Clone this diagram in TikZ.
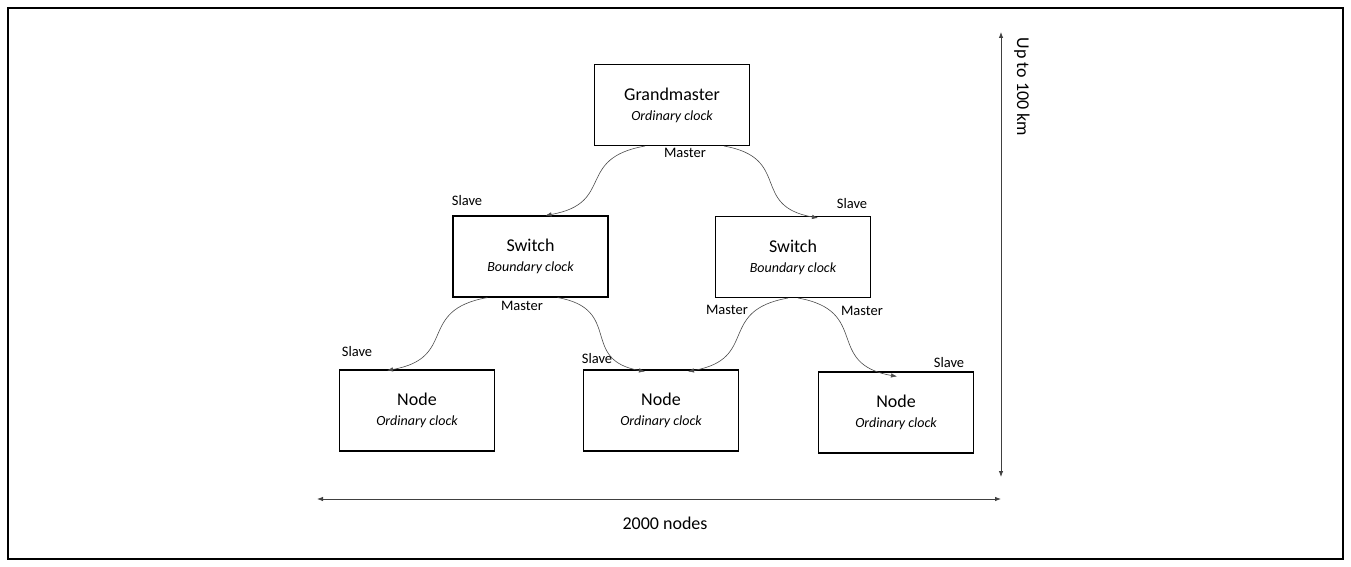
\documentclass[tikz,border=0pt]{standalone}
\usepackage{fontspec}
\setmainfont{Carlito}
\usetikzlibrary{arrows.meta}
\usetikzlibrary{positioning}

\begin{document}
\begin{tikzpicture}[
    x=1pt, y=-1pt,
    clock/.style={rectangle, draw=black, line width=1.1pt, minimum width=155, minimum height=81, align=center, inner sep=0, font=\fontsize{18}{20}\selectfont},
    link/.style={draw=black!70, line width=0.6pt, -{Latex[length=6pt,width=4.5pt]}, looseness=1.5},
    span/.style={draw=black!75, line width=0.8pt, {Latex[length=6pt,width=4.5pt]}-{Latex[length=6pt,width=4.5pt]}},
    port/.style={font=\fontsize{14.5}{16}\selectfont, inner sep=1pt},
    ]
    \newcommand{\clocktext}[2]{#1\\{\fontsize{14}{20}\selectfont\itshape #2}}

    \useasboundingbox [fill=white] (0,0) rectangle (1351,567);
    \draw [line width=1.2pt] (8,8) rectangle (1343,559);

    % clocks
    \node (gm) [clock] at (672,105) {\clocktext{Grandmaster}{Ordinary clock}};
    \node (sw1) [clock] at (530.5,256.5) {\clocktext{Switch}{Boundary clock}};
    \node (sw2) [clock] at (793,257) {\clocktext{Switch}{Boundary clock}};
    \node (nd1) [clock] at (417,410.5) {\clocktext{Node}{Ordinary clock}};
    \node (nd2) [clock] at (661,410.5) {\clocktext{Node}{Ordinary clock}};
    \node (nd3) [clock] at (896,412.5) {\clocktext{Node}{Ordinary clock}};

    % sync links
    \draw [link] ([xshift=-27]gm.south) to [out=190, in=10] ([xshift=15]sw1.north);
    \draw [link] ([xshift=52]gm.south) to [out=-10, in=170] ([xshift=25,yshift=-2]sw2.north);
    \draw [link] ([xshift=-43]sw1.south) to [out=190, in=10] ([xshift=-30,yshift=-1]nd1.north);
    \draw [link] ([xshift=27]sw1.south) to [out=-10, in=170] ([xshift=-16,yshift=-2]nd2.north);
    \draw [link] ([xshift=-5]sw2.south) to [out=190, in=10] ([xshift=27,yshift=-2]nd2.north);
    \draw [link] ([xshift=5]sw2.south) to [out=-10, in=170] ([xshift=1,yshift=-5]nd3.north);

    % port roles
    \node (gm-m) [port] at (685,153) {Master};
    \node (sw1-s) [port] at (467,201) {Slave};
    \node (sw2-s) [port] at (852,204) {Slave};
    \node (sw1-m) [port] at (522,306) {Master};
    \node (nd1-s) [port] at (357,352) {Slave};
    \node (nd2-s) [port] at (597,359) {Slave};
    \node (sw2-m1) [port] at (727,310) {Master};
    \node (sw2-m2) [port] at (862,311) {Master};
    \node (nd3-s) [port] at (949,363) {Slave};

    % extents
    \coordinate (top) at (1001,32);
    \coordinate (bottom) at (1001,477);
    \coordinate (left) at (317,499);
    \coordinate (right) at (1001,499);
    \coordinate (mid) at (665,499);
    \draw [span] (top) -- (bottom);
    \draw [span] (left) -- (right);
    \node (dist) [rotate=-90, font=\fontsize{18}{20}\selectfont] at (1022,87) {Up to 100 km};
    \node (count) [below=14pt of mid, font=\fontsize{18}{20}\selectfont] {2000 nodes};
\end{tikzpicture}
\end{document}
